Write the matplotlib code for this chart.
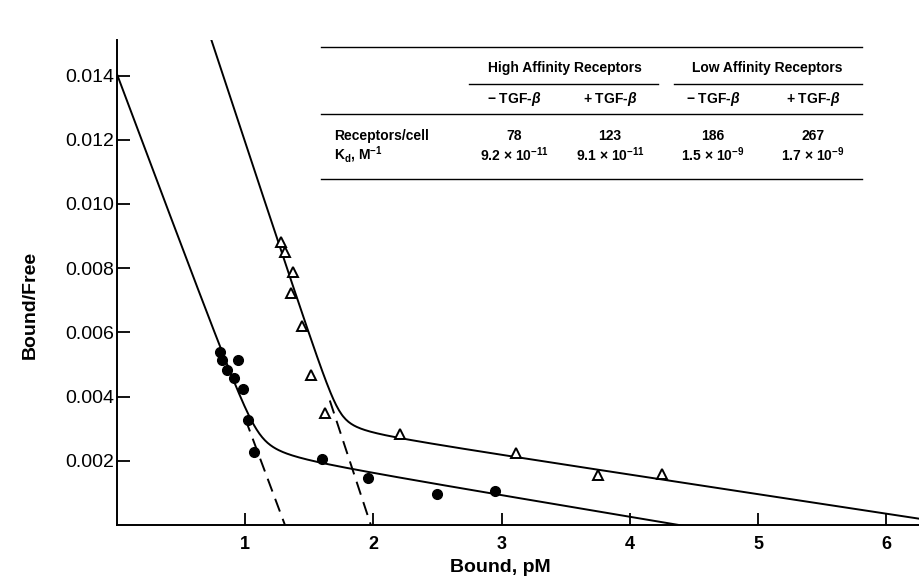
import numpy as np
import matplotlib
matplotlib.use("Agg")
import matplotlib.pyplot as plt
from matplotlib.lines import Line2D

plt.rcParams["font.family"] = ["Liberation Sans", "DejaVu Sans"]
plt.rcParams["mathtext.fontset"] = "custom"
plt.rcParams["mathtext.rm"] = "Liberation Sans:bold"
plt.rcParams["mathtext.bf"] = "Liberation Sans:bold"
plt.rcParams["mathtext.it"] = "Liberation Sans:bold:italic"

# data points (Bound in pM, Bound/Free)
ctrl_x = [0.80, 0.82, 0.86, 0.91, 0.94, 0.98, 1.02, 1.07, 1.60, 1.96, 2.50, 2.95]
ctrl_y = [0.00540, 0.00515, 0.00484, 0.00458, 0.00513, 0.00423, 0.00326,
          0.00226, 0.00205, 0.00147, 0.00096, 0.00105]
tgf_x = [1.28, 1.31, 1.37, 1.36, 1.44, 1.51, 1.62, 2.21, 3.11, 3.75, 4.25]
tgf_y = [0.00882, 0.00850, 0.00788, 0.00724, 0.00621, 0.00467, 0.00348,
         0.00282, 0.00223, 0.00157, 0.00159]

# fitted lines: (y intercept, x intercept) for high and low affinity parts
ctrl_high = (0.0140, 1.31)
ctrl_low = (0.0029, 4.36)
tgf_high = (0.0240, 1.98)
tgf_low = (0.00398, 6.57)

# table
groups = ["High Affinity Receptors", "Low Affinity Receptors"]
columns = ["\u2212 TGF-$\\beta$", "+ TGF-$\\beta$", "\u2212 TGF-$\\beta$", "+ TGF-$\\beta$"]
receptors = ["78", "123", "186", "267"]
kd_vals = ["9.2 \u00d7 10$^{\u2212 11}$", "9.1 \u00d7 10$^{\u2212 11}$",
           "1.5 \u00d7 10$^{\u2212 9}$", "1.7 \u00d7 10$^{\u2212 9}$"]


def line(p, x):
    y0, x0 = p
    return y0 - y0 / x0 * x


def two_site(high, low, knee, x):
    a = line(high, x)
    b = line(low, x)
    return (a + b) / 2 + np.sqrt(((a - b) / 2) ** 2 + knee ** 2)


W, H = 920, 585
fig = plt.figure(figsize=(W / 100, H / 100), dpi=100)
ax = fig.add_axes([117 / W, 1 - 525 / H, (W - 117) / W, (525 - 40) / H])

xs = np.linspace(0, 6.4, 600)
ax.plot(xs, two_site(ctrl_high, ctrl_low, 0.0007, xs), color="black", lw=1.4)
ax.plot(xs, two_site(tgf_high, tgf_low, 0.0006, xs), color="black", lw=1.4)

xd = np.linspace(1.0, ctrl_high[1], 20)
ax.plot(xd, line(ctrl_high, xd), color="black", lw=1.4, dashes=(7, 4))
xd = np.linspace(1.66, tgf_high[1], 20)
ax.plot(xd, line(tgf_high, xd), color="black", lw=1.4, dashes=(7, 4))

ax.plot(ctrl_x, ctrl_y, "o", color="black", ms=7, ls="none")
ax.plot(tgf_x, tgf_y, "^", mfc="white", mec="black", mew=1.4, ms=7, ls="none")

ax.set_xlim(0, (W - 117) / 128.2)
ax.set_ylim(0, (525 - 40) / 32.1 * 0.001)
ax.set_xticks([1, 2, 3, 4, 5, 6])
ax.set_yticks([0.002, 0.004, 0.006, 0.008, 0.010, 0.012, 0.014])
ax.set_yticklabels(["0.002", "0.004", "0.006", "0.008", "0.010", "0.012", "0.014"])
ax.tick_params(axis="y", direction="in", length=9, width=1.3, labelsize=14, pad=2)
ax.tick_params(axis="x", direction="in", length=9, width=1.3, labelsize=13, pad=8)
for lab in ax.get_xticklabels():
    lab.set_fontweight("bold")
for s in ["top", "right"]:
    ax.spines[s].set_visible(False)
for s in ["left", "bottom"]:
    ax.spines[s].set_linewidth(1.4)
ax.patch.set_alpha(0)

fig.text(30 / W, 1 - 305 / H, "Bound/Free", rotation=90, ha="center", va="center",
         fontsize=14, fontweight="bold")
fig.text(500 / W, 1 - 567 / H, "Bound, pM", ha="center", va="center",
         fontsize=14, fontweight="bold")


def hline(x0, x1, y, lw=1.0):
    fig.add_artist(Line2D([x0 / W, x1 / W], [1 - y / H, 1 - y / H],
                          transform=fig.transFigure, color="black", lw=lw))


def ftext(x, y, s, ha="center"):
    fig.text(x / W, 1 - y / H, s, ha=ha, va="center", fontsize=10, fontweight="bold")


hline(321, 862, 47)
hline(469, 658, 84)
hline(674, 862, 84)
hline(321, 862, 114)
hline(321, 862, 179)

ftext(565, 68, groups[0])
ftext(767, 68, groups[1])
col_x = [514, 610, 713, 813]
for cx, c, r, k in zip(col_x, columns, receptors, kd_vals):
    ftext(cx, 99, c)
    ftext(cx, 136, r)
    ftext(cx, 155, k)
ftext(334, 136, "Receptors/cell", ha="left")
ftext(334, 155, "K$_\\mathregular{d}$, M$^{\u2212 1}$", ha="left")

fig.savefig("out.png", dpi=100)
